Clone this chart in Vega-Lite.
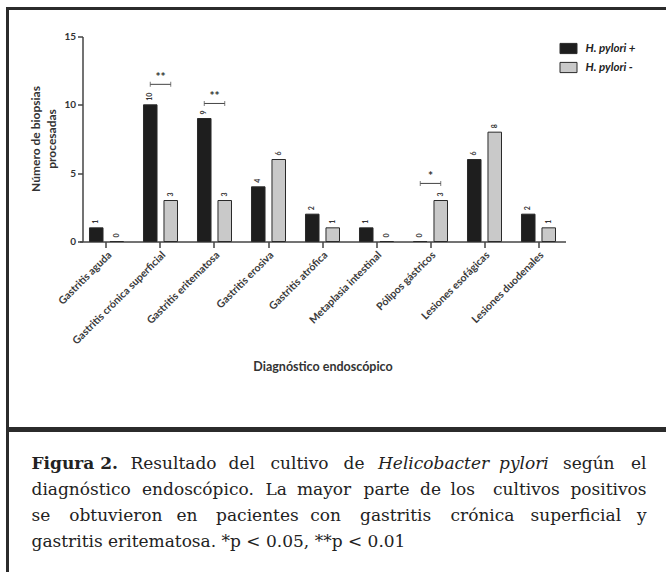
{
  "$schema": "https://vega.github.io/schema/vega-lite/v6.json",
  "padding": {"left": 5.5, "top": 6.5, "right": 0, "bottom": 0},
  "background": "white",
  "spacing": -4,
  "config": {
    "view": {"stroke": "#2b2b2b", "strokeWidth": 3},
    "font": "Lato",
    "text": {"font": "DejaVu Serif", "fontSize": 17, "align": "left", "baseline": "alphabetic", "color": "#222"}
  },
  "datasets": {
    "cultivos": [
      {"diagnostico": "Gastritis aguda", "grupo": "H. pylori +", "n": 1},
      {"diagnostico": "Gastritis aguda", "grupo": "H. pylori -", "n": 0},
      {"diagnostico": "Gastritis crónica superficial", "grupo": "H. pylori +", "n": 10},
      {"diagnostico": "Gastritis crónica superficial", "grupo": "H. pylori -", "n": 3},
      {"diagnostico": "Gastritis eritematosa", "grupo": "H. pylori +", "n": 9},
      {"diagnostico": "Gastritis eritematosa", "grupo": "H. pylori -", "n": 3},
      {"diagnostico": "Gastritis erosiva", "grupo": "H. pylori +", "n": 4},
      {"diagnostico": "Gastritis erosiva", "grupo": "H. pylori -", "n": 6},
      {"diagnostico": "Gastritis atrófica", "grupo": "H. pylori +", "n": 2},
      {"diagnostico": "Gastritis atrófica", "grupo": "H. pylori -", "n": 1},
      {"diagnostico": "Metaplasia intestinal", "grupo": "H. pylori +", "n": 1},
      {"diagnostico": "Metaplasia intestinal", "grupo": "H. pylori -", "n": 0},
      {"diagnostico": "Pólipos gástricos", "grupo": "H. pylori +", "n": 0},
      {"diagnostico": "Pólipos gástricos", "grupo": "H. pylori -", "n": 3},
      {"diagnostico": "Lesiones esofágicas", "grupo": "H. pylori +", "n": 6},
      {"diagnostico": "Lesiones esofágicas", "grupo": "H. pylori -", "n": 8},
      {"diagnostico": "Lesiones duodenales", "grupo": "H. pylori +", "n": 2},
      {"diagnostico": "Lesiones duodenales", "grupo": "H. pylori -", "n": 1}
    ],
    "brackets": [
      {"diagnostico": "Gastritis crónica superficial", "grupo": "H. pylori +", "n": 11.5},
      {"diagnostico": "Gastritis crónica superficial", "grupo": "H. pylori -", "n": 11.5},
      {"diagnostico": "Gastritis eritematosa", "grupo": "H. pylori +", "n": 10.1},
      {"diagnostico": "Gastritis eritematosa", "grupo": "H. pylori -", "n": 10.1},
      {"diagnostico": "Pólipos gástricos", "grupo": "H. pylori +", "n": 4.25},
      {"diagnostico": "Pólipos gástricos", "grupo": "H. pylori -", "n": 4.25}
    ],
    "stars": [
      {"diagnostico": "Gastritis crónica superficial", "n": 11.5, "sig": "**"},
      {"diagnostico": "Gastritis eritematosa", "n": 10.1, "sig": "**"},
      {"diagnostico": "Pólipos gástricos", "n": 4.25, "sig": "*"}
    ]
  },
  "vconcat": [
    {
      "width": 664,
      "height": 420,
      "encoding": {
        "x": {
          "field": "diagnostico",
          "type": "nominal",
          "scale": {
            "domain": ["Gastritis aguda", "Gastritis crónica superficial", "Gastritis eritematosa", "Gastritis erosiva", "Gastritis atrófica", "Metaplasia intestinal", "Pólipos gástricos", "Lesiones esofágicas", "Lesiones duodenales"],
            "range": [72, 558],
            "paddingInner": 0.37,
            "paddingOuter": 0.185
          },
          "axis": {
            "title": "Diagnóstico endoscópico",
            "offset": -187,
            "labelAngle": -45,
            "labelAlign": "right",
            "labelBaseline": "top",
            "labelFont": "Lato",
            "labelFontSize": 10.5,
            "labelFontWeight": "bold",
            "labelColor": "#3a3a3a",
            "labelPadding": 2,
            "labelLimit": 0,
            "tickSize": 6,
            "tickWidth": 1.5,
            "tickColor": "#444",
            "domainWidth": 1.5,
            "domainColor": "#444",
            "titleY": 125,
            "titleBaseline": "middle",
            "titleFont": "Lato",
            "titleFontSize": 12.5,
            "titleFontWeight": "bold",
            "titleColor": "#333"
          }
        },
        "y": {
          "field": "n",
          "type": "quantitative",
          "scale": {"domain": [0, 15], "range": [233, 28], "nice": false, "zero": true},
          "axis": {
            "title": ["Número de biopsias", "procesadas"],
            "values": [0, 5, 10, 15],
            "offset": -75,
            "grid": false,
            "tickSize": 5,
            "tickWidth": 1.5,
            "tickColor": "#444",
            "domainColor": "#444",
            "domainWidth": 1.5,
            "labelFont": "Lato",
            "labelFontSize": 10,
            "labelFontWeight": "bold",
            "labelColor": "#333",
            "labelPadding": 2,
            "titleFont": "Lato",
            "titleFontSize": 12,
            "titleFontWeight": "bold",
            "titleColor": "#333",
            "titleLineHeight": 16,
            "titleX": -47,
            "titleY": 130,
            "titleAngle": 270,
            "titleBaseline": "middle",
            "titleAlign": "center"
          }
        }
      },
      "layer": [
        {
          "data": {"name": "cultivos"},
          "mark": {"type": "bar", "stroke": "#2a2a2a", "strokeWidth": 1},
          "encoding": {
            "xOffset": {"field": "grupo", "type": "nominal", "scale": {"domain": ["H. pylori +", "H. pylori -"], "paddingInner": 0.34, "paddingOuter": 0}},
            "color": {
              "field": "grupo",
              "type": "nominal",
              "scale": {"domain": ["H. pylori +", "H. pylori -"], "range": ["#1e1e1e", "#c9c9c9"]},
              "legend": {
                "orient": "none",
                "legendX": 552,
                "legendY": 31,
                "title": null,
                "padding": 0,
                "symbolType": "M-1,-0.6H1V0.6H-1Z",
                "symbolSize": 289,
                "symbolStrokeColor": "#2a2a2a",
                "symbolStrokeWidth": 1,
                "labelFont": "Lato",
                "labelFontSize": 11.5,
                "labelFontWeight": "bold",
                "labelFontStyle": "italic",
                "labelColor": "#222",
                "labelOffset": 8,
                "rowPadding": 2
              }
            }
          }
        },
        {
          "data": {"name": "cultivos"},
          "mark": {"type": "text", "angle": 270, "align": "left", "baseline": "middle", "dx": 4, "fontSize": 7, "font": "Lato", "fontWeight": "bold", "color": "#333"},
          "encoding": {
            "xOffset": {"field": "grupo", "type": "nominal"},
            "text": {"field": "n", "type": "quantitative"}
          }
        },
        {
          "data": {"name": "brackets"},
          "mark": {"type": "line", "color": "#444", "strokeWidth": 1},
          "encoding": {
            "xOffset": {"field": "grupo", "type": "nominal"},
            "detail": {"field": "diagnostico"}
          }
        },
        {
          "data": {"name": "brackets"},
          "mark": {"type": "tick", "orient": "vertical", "size": 5, "thickness": 1, "color": "#444"},
          "encoding": {
            "xOffset": {"field": "grupo", "type": "nominal"}
          }
        },
        {
          "data": {"name": "stars"},
          "mark": {"type": "text", "fontSize": 12, "fontWeight": "bold", "font": "Lato", "align": "center", "baseline": "middle", "dy": -7, "color": "#333"},
          "encoding": {
            "text": {"field": "sig"}
          }
        }
      ]
    },
    {
      "width": 664,
      "height": 160,
      "encoding": {
        "y": {"field": "line", "type": "quantitative", "scale": {"domain": [0, 5], "range": [12, 142]}, "axis": null},
        "text": {"field": "text"}
      },
      "layer": [
        {"data": {"values": [{"line": 1, "text": "Figura 2."}]}, "mark": {"type": "text", "fontWeight": "bold"}, "encoding": {"x": {"value": 24}}},
        {"data": {"values": [{"line": 2, "text": "diagnóstico"}, {"line": 3, "text": "se"}, {"line": 4, "text": "gastritis eritematosa. *p < 0.05, **p < 0.01"}]}, "mark": "text", "encoding": {"x": {"value": 24}}},
        {"data": {"values": [{"line": 1, "text": "el"}, {"line": 2, "text": "positivos"}, {"line": 3, "text": "y"}]}, "mark": {"type": "text", "align": "right"}, "encoding": {"x": {"value": 639}}},
        {"data": {"values": [{"line": 1, "text": "Resultado"}]}, "mark": "text", "encoding": {"x": {"value": 123}}},
        {"data": {"values": [{"line": 1, "text": "del"}]}, "mark": "text", "encoding": {"x": {"value": 221}}},
        {"data": {"values": [{"line": 1, "text": "cultivo"}]}, "mark": "text", "encoding": {"x": {"value": 263}}},
        {"data": {"values": [{"line": 1, "text": "de"}]}, "mark": "text", "encoding": {"x": {"value": 336}}},
        {"data": {"values": [{"line": 1, "text": "Helicobacter"}]}, "mark": {"type": "text", "fontStyle": "italic"}, "encoding": {"x": {"value": 370.5}}},
        {"data": {"values": [{"line": 1, "text": "pylori"}]}, "mark": {"type": "text", "fontStyle": "italic"}, "encoding": {"x": {"value": 491.5}}},
        {"data": {"values": [{"line": 1, "text": "según"}]}, "mark": "text", "encoding": {"x": {"value": 555.5}}},
        {"data": {"values": [{"line": 2, "text": "endoscópico."}]}, "mark": "text", "encoding": {"x": {"value": 134.5}}},
        {"data": {"values": [{"line": 2, "text": "La"}]}, "mark": "text", "encoding": {"x": {"value": 258}}},
        {"data": {"values": [{"line": 2, "text": "mayor"}]}, "mark": "text", "encoding": {"x": {"value": 289.5}}},
        {"data": {"values": [{"line": 2, "text": "parte"}]}, "mark": "text", "encoding": {"x": {"value": 356}}},
        {"data": {"values": [{"line": 3, "text": "gastritis"}]}, "mark": "text", "encoding": {"x": {"value": 352.5}}},
        {"data": {"values": [{"line": 2, "text": "de"}]}, "mark": "text", "encoding": {"x": {"value": 412.5}}},
        {"data": {"values": [{"line": 2, "text": "los"}, {"line": 3, "text": "crónica"}]}, "mark": "text", "encoding": {"x": {"value": 443}}},
        {"data": {"values": [{"line": 2, "text": "cultivos"}]}, "mark": "text", "encoding": {"x": {"value": 485.5}}},
        {"data": {"values": [{"line": 3, "text": "obtuvieron"}]}, "mark": "text", "encoding": {"x": {"value": 61.7}}},
        {"data": {"values": [{"line": 3, "text": "en"}]}, "mark": "text", "encoding": {"x": {"value": 169}}},
        {"data": {"values": [{"line": 3, "text": "pacientes"}]}, "mark": "text", "encoding": {"x": {"value": 208.6}}},
        {"data": {"values": [{"line": 3, "text": "con"}]}, "mark": "text", "encoding": {"x": {"value": 302.8}}},
        {"data": {"values": [{"line": 3, "text": "superficial"}]}, "mark": "text", "encoding": {"x": {"value": 523}}}
      ]
    }
  ]
}
